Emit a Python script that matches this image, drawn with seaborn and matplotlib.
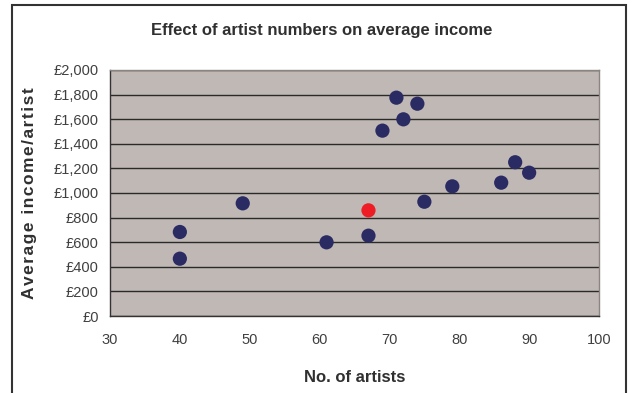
import matplotlib
matplotlib.use("Agg")
import matplotlib.pyplot as plt
import seaborn as sns
import pandas as pd
from matplotlib.patches import Rectangle
from matplotlib.ticker import FuncFormatter

artists = [40, 40, 49, 61, 67, 69, 71, 72, 74, 75, 79, 86, 88, 90, 67]
income = [683, 466, 916, 599, 653, 1507, 1775, 1599, 1726, 929, 1054, 1084, 1250, 1165, 859]
group = ["other"] * 14 + ["highlight"]

df = pd.DataFrame({"artists": artists, "income": income, "group": group})

sns.set_style("white")
plt.rcParams["font.family"] = ["Liberation Sans", "DejaVu Sans"]

fig = plt.figure(figsize=(6.36, 3.93), dpi=100)
ax = fig.add_axes([110/636, 1-316/393, 489/636, 246/393])
ax.set_facecolor("#C0B8B5")

sns.scatterplot(data=df, x="artists", y="income", hue="group",
                palette={"other": "#2B2B63", "highlight": "#EE1C25"},
                s=105, edgecolor="none", legend=False, ax=ax, zorder=3)

ax.set_xlim(30, 100)
ax.set_ylim(0, 2000)
ax.set_xticks(range(30, 101, 10))
ax.set_yticks(range(0, 2001, 200))
ax.yaxis.set_major_formatter(FuncFormatter(lambda v, p: f"£{int(v):,}"))
ax.grid(axis="y", color="#2A2A2A", linewidth=1.0, zorder=1)
ax.set_axisbelow(True)
for s in ["top", "right"]:
    ax.spines[s].set_color("#8C8480")
    ax.spines[s].set_linewidth(1.0)
for s in ["left", "bottom"]:
    ax.spines[s].set_color("#333333")
    ax.spines[s].set_linewidth(1.0)
ax.tick_params(axis="both", direction="out", length=4, width=1, color="#333333",
               labelsize=10.5, labelcolor="#404040", pad=4)
ax.tick_params(axis="x", pad=8)

ax.set_xlabel("No. of artists", fontsize=12, fontweight="bold", color="#303030")
ax.xaxis.label.set_va("center")
ax.xaxis.set_label_coords(0.5, -(378-316)/246)

hs = "\u200a"
ylab = hs.join("Average income/artist")
ax.set_ylabel(ylab, fontsize=12.5, fontweight="bold", color="#303030")
ax.yaxis.label.set_va("center")
ax.yaxis.set_label_coords(-(110-30)/489, 0.5)

fig.text(322/636, 1-30/393, "Effect of artist numbers on average income",
         ha="center", va="center", fontsize=12, fontweight="bold", color="#303030")

fig.patches.append(Rectangle((12/636, -0.05), (626-12)/636, (1-5/393) + 0.05,
                             transform=fig.transFigure, fill=False,
                             edgecolor="#333333", linewidth=1.5))

fig.savefig("out.png", dpi=100)
